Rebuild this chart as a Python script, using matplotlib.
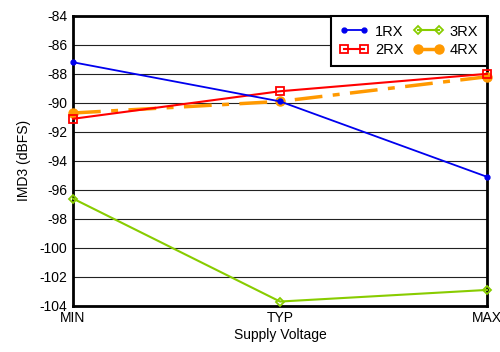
import matplotlib.pyplot as plt

plt.rcParams['font.family'] = ['Liberation Sans', 'DejaVu Sans']
plt.rcParams['axes.unicode_minus'] = False

voltages = ['MIN', 'TYP', 'MAX']
rx1 = [-87.2, -89.9, -95.1]
rx2 = [-91.1, -89.2, -88.0]
rx3 = [-96.6, -103.7, -102.9]
rx4 = [-90.7, -89.9, -88.2]

fig = plt.figure(figsize=(5, 3.52), dpi=100)
ax = fig.add_axes([0.146, 0.131, 0.828, 0.824])

x = range(len(voltages))
ax.plot(x, rx1, color='#0000ee', lw=1.3, marker='o', ms=3.5, label='1RX', clip_on=False, zorder=5)
ax.plot(x, rx2, color='#ff0000', lw=1.5, marker='s', ms=5.5, mfc='none', mew=1.3, label='2RX', clip_on=False, zorder=4)
ax.plot(x, rx3, color='#88cc00', lw=1.5, marker='D', ms=4.5, mfc='none', mew=1.3, label='3RX', clip_on=False, zorder=4)
ax.plot(x, rx4, color='#ff9900', lw=2.5, ls=(0, (8, 3, 2, 3)), marker='o', ms=6.5, label='4RX', clip_on=False, zorder=3)

ax.set_xlim(0, 2)
ax.set_ylim(-104, -84)
ax.set_yticks(range(-104, -83, 2))
ax.set_xticks(list(x))
ax.set_xticklabels(voltages)
ax.tick_params(length=0, labelsize=10, pad=4)
ax.yaxis.grid(True, color='#222222', lw=0.8)
ax.set_axisbelow(True)
for s in ax.spines.values():
    s.set_linewidth(2)
ax.set_xlabel('Supply Voltage', fontsize=10, labelpad=2)
ax.set_ylabel('IMD3 (dBFS)', fontsize=10, labelpad=6)

leg = ax.legend(ncol=2, loc='upper right', numpoints=2, fancybox=False, framealpha=1,
                edgecolor='black', fontsize=10.5, handlelength=2.0, columnspacing=0.7,
                handletextpad=0.45, labelspacing=0.3, borderaxespad=0.0, borderpad=0.6)
leg.get_frame().set_linewidth(1.5)

fig.savefig('out.png')
